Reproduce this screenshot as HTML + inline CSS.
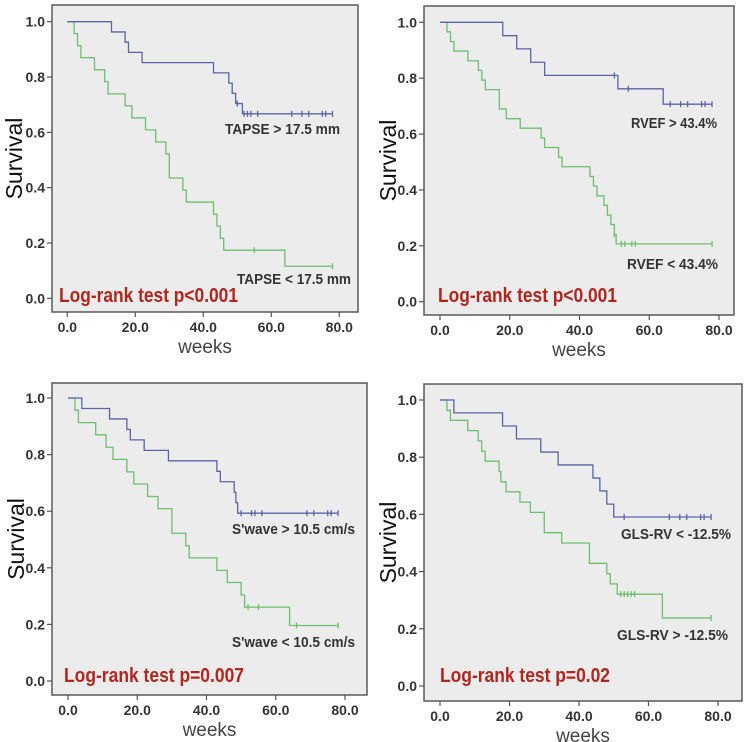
<!DOCTYPE html>
<html><head><meta charset="utf-8">
<style>
html,body{margin:0;padding:0;background:#fff;}
svg{display:block;font-family:"Liberation Sans",sans-serif;}
.tk{font-size:14px;font-weight:bold;fill:#333;}
.lg{font-size:14.5px;font-weight:bold;fill:#333;}
.lr{font-size:20.5px;font-weight:bold;fill:#b3261e;}
.wk{font-size:19px;fill:#444;}
.sv{font-size:23px;fill:#111;}
</style></head>
<body>
<svg id="chart" width="749" height="742" viewBox="0 0 749 742"></svg>
<script>
// X ticks / Y ticks
const xTicks = [0, 20, 40, 60, 80];
const xTickLabels = ["0.0", "20.0", "40.0", "60.0", "80.0"];
const yTicks = [0, 0.2, 0.4, 0.6, 0.8, 1.0];
const yTickLabels = ["0.0", "0.2", "0.4", "0.6", "0.8", "1.0"];

// Panel 1: TAPSE
const p1BlueT = [0, 13, 17, 18, 22, 43, 47.5, 48.5, 49.5, 51.5];
const p1BlueS = [1, 0.963, 0.926, 0.889, 0.852, 0.815, 0.778, 0.741, 0.704, 0.667];
const p1BlueC = [50, 52, 53, 54, 56, 66, 69, 71, 75, 76, 78];
const p1BlueEnd = 78;
const p1GreenT = [0, 2, 3, 4, 8, 11, 12, 17, 19, 23, 26, 29, 30, 34, 35, 43, 44, 45, 46, 48, 64];
const p1GreenS = [1, 0.957, 0.913, 0.87, 0.826, 0.783, 0.739, 0.696, 0.652, 0.609, 0.565, 0.522, 0.435, 0.391, 0.348, 0.304, 0.261, 0.217, 0.174, 0.174, 0.116];
const p1GreenC = [55, 78];
const p1GreenEnd = 78;

// Panel 2: RVEF
const p2BlueT = [0, 18, 22, 26, 30, 51, 64];
const p2BlueS = [1, 0.952, 0.905, 0.857, 0.810, 0.762, 0.707];
const p2BlueC = [50, 54, 66, 69, 71, 75, 76, 78];
const p2BlueEnd = 78;
const p2GreenT = [0, 2, 3, 4, 8, 11, 12, 13, 17, 19, 23, 29, 30, 34, 35, 43, 44, 45, 47, 48, 49, 50, 50.5];
const p2GreenS = [1, 0.966, 0.931, 0.897, 0.862, 0.828, 0.793, 0.759, 0.69, 0.655, 0.621, 0.586, 0.552, 0.517, 0.483, 0.448, 0.414, 0.379, 0.345, 0.31, 0.276, 0.241, 0.207];
const p2GreenC = [50, 52, 53, 55, 56, 78];
const p2GreenEnd = 78;

// Panel 3: S'wave
const p3BlueT = [0, 4, 12, 17, 18, 22, 29, 43, 44, 48, 48.5, 49];
const p3BlueS = [1, 0.963, 0.926, 0.889, 0.852, 0.815, 0.778, 0.741, 0.704, 0.667, 0.63, 0.593];
const p3BlueC = [50, 53, 54, 56, 69, 71, 75, 76, 78];
const p3BlueEnd = 78;
const p3GreenT = [0, 2, 3, 8, 11, 13, 17, 19, 23, 26, 30, 34, 35, 43, 46, 50, 51, 64];
const p3GreenS = [1, 0.957, 0.913, 0.87, 0.826, 0.783, 0.739, 0.696, 0.652, 0.609, 0.522, 0.478, 0.435, 0.391, 0.348, 0.304, 0.261, 0.196];
const p3GreenC = [52, 55, 66, 78];
const p3GreenEnd = 78;

// Panel 4: GLS-RV
const p4BlueT = [0, 4, 18, 22, 29, 34, 44, 46, 48, 50];
const p4BlueS = [1, 0.955, 0.909, 0.864, 0.818, 0.773, 0.727, 0.682, 0.636, 0.591];
const p4BlueC = [53, 66, 69, 71, 75, 76, 78];
const p4BlueEnd = 78;
const p4GreenT = [0, 2, 3, 8, 11, 12, 13, 17, 17.5, 19, 23, 26, 30, 35, 43, 48, 49, 51, 64];
const p4GreenS = [1, 0.964, 0.929, 0.893, 0.857, 0.821, 0.786, 0.75, 0.714, 0.679, 0.643, 0.607, 0.536, 0.5, 0.429, 0.393, 0.357, 0.321, 0.238];
const p4GreenC = [52, 53, 54, 55, 56, 78];
const p4GreenEnd = 78;

const svg = document.getElementById('chart');
const NS = 'http://www.w3.org/2000/svg';
function mk(tag, attrs, parent){
  const e = document.createElementNS(NS, tag);
  for (const k in attrs) e.setAttribute(k, attrs[k]);
  (parent||svg).appendChild(e);
  return e;
}
const BLUE = '#5a64a8', GREEN = '#6cbf6c';

function panel(cfg){
  const g = mk('g', {});
  
  
  const xS = v => cfg.x0 + (cfg.x80 - cfg.x0) * v / 80;
  const yS = v => cfg.y0 - (cfg.y0 - cfg.y1) * v;
  const box = mk('rect', {x:cfg.bl, y:cfg.bt, width:cfg.br-cfg.bl, height:cfg.bb-cfg.bt, fill:'#ececec', stroke:'#5a5a5a', 'stroke-width':1.5}, g);
  
  
  yTicks.forEach((v, i) => {
    mk('line', {x1:cfg.bl-5, x2:cfg.bl, y1:yS(v), y2:yS(v), stroke:'#555', 'stroke-width':1.2}, g);
    const t = mk('text', {x:cfg.bl-7, y:yS(v)+5, 'text-anchor':'end', class:'tk'}, g);
    t.textContent = yTickLabels[i];
    
    
  });
  xTicks.forEach((v, i) => {
    mk('line', {x1:xS(v), x2:xS(v), y1:cfg.bb, y2:cfg.bb+5, stroke:'#555', 'stroke-width':1.2}, g);
    const t = mk('text', {x:xS(v), y:cfg.bb+20, 'text-anchor':'middle', class:'tk'}, g);
    t.textContent = xTickLabels[i];
    
    
  });
  const wk = mk('text', {x:(cfg.bl+cfg.br)/2, y:cfg.bb+41, 'text-anchor':'middle', class:'wk'}, g);
  wk.textContent = 'weeks';
  
  
  const cy = (cfg.bt+cfg.bb)/2;
  const sv = mk('text', {x:cfg.svx, y:cy, 'text-anchor':'middle', class:'sv', transform:`rotate(-90 ${cfg.svx} ${cy})`}, g);
  sv.textContent = 'Survival';
  
  

  function series(T, S, C, end, color, nm){
    let d = `M${xS(T[0])},${yS(S[0])}`;
    for (let i = 1; i < T.length; i++){
      d += ` H${xS(T[i])} V${yS(S[i])}`;
    }
    d += ` H${xS(end)}`;
    const p = mk('path', {d:d, fill:'none', stroke:color, 'stroke-width':1.3}, g);
    
    
    C.forEach(c => {
      let s = S[0];
      for (let i = 0; i < T.length; i++) if (T[i] <= c) s = S[i];
      const m = mk('line', {x1:xS(c), x2:xS(c), y1:yS(s)-3, y2:yS(s)+3, stroke:color, 'stroke-width':1.3}, g);
      
      
    });
  }
  series(cfg.gT, cfg.gS, cfg.gC, cfg.gE, GREEN, 'low-group');
  series(cfg.bT, cfg.bS, cfg.bC, cfg.bE, BLUE, 'high-group');

  cfg.labels.forEach(l => {
    const t = mk('text', {x:l[1], y:l[2], 'text-anchor':'start', class:'lg', textLength:l[3], lengthAdjust:'spacingAndGlyphs'}, g);
    t.textContent = l[0];
    
    
  });
  const lr = mk('text', {x:cfg.lrx, y:cfg.lry, class:'lr', textLength:cfg.lrw, lengthAdjust:'spacingAndGlyphs'}, g);
  lr.textContent = cfg.lr;
  
  
}

panel({name:'tapse-panel', bl:52, br:358, bt:5, bb:312, x0:67.3, x80:339.3, y0:298.3, y1:21.7, svx:22,
  bT:p1BlueT, bS:p1BlueS, bC:p1BlueC, bE:p1BlueEnd, gT:p1GreenT, gS:p1GreenS, gC:p1GreenC, gE:p1GreenEnd,
  labels:[['TAPSE > 17.5 mm',225,134,115],['TAPSE < 17.5 mm',237,284,114]], lr:'Log-rank test p<0.001', lrx:59, lry:302, lrw:179});
panel({name:'rvef-panel', bl:424, br:734, bt:6, bb:315, x0:440, x80:719, y0:301.7, y1:22.3, svx:396,
  bT:p2BlueT, bS:p2BlueS, bC:p2BlueC, bE:p2BlueEnd, gT:p2GreenT, gS:p2GreenS, gC:p2GreenC, gE:p2GreenEnd,
  labels:[['RVEF > 43.4%',631,128,86],['RVEF < 43.4%',627,269,91]], lr:'Log-rank test p<0.001', lrx:438, lry:302, lrw:179});
panel({name:'swave-panel', bl:52, br:367, bt:383, bb:695, x0:68, x80:345, y0:681, y1:398, svx:24,
  bT:p3BlueT, bS:p3BlueS, bC:p3BlueC, bE:p3BlueEnd, gT:p3GreenT, gS:p3GreenS, gC:p3GreenC, gE:p3GreenEnd,
  labels:[["S'wave > 10.5 cm/s",232,534,123],["S'wave < 10.5 cm/s",232,647,123]], lr:'Log-rank test p=0.007', lrx:64, lry:682, lrw:180});
panel({name:'gls-rv-panel', bl:424, br:742, bt:384, bb:701, x0:440, x80:718, y0:686, y1:400, svx:396,
  bT:p4BlueT, bS:p4BlueS, bC:p4BlueC, bE:p4BlueEnd, gT:p4GreenT, gS:p4GreenS, gC:p4GreenC, gE:p4GreenEnd,
  labels:[['GLS-RV < -12.5%',621,539,110],['GLS-RV > -12.5%',617,640,111]], lr:'Log-rank test p=0.02', lrx:440, lry:682, lrw:170});
</script>
</body></html>
